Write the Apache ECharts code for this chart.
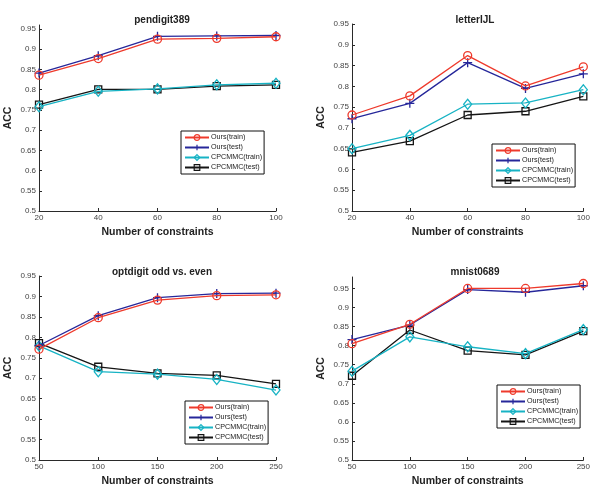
<!DOCTYPE html>
<html>
<head>
<meta charset="utf-8">
<script src="https://cdn.jsdelivr.net/npm/echarts@6/dist/echarts.min.js"></script>
<style>
  html, body { margin: 0; padding: 0; background: #fff; }
  #chart { width: 593px; height: 488px; }
</style>
</head>
<body>
<div id="chart"></div>
<script>
  // tick labels
  var xTicksA = [20, 40, 60, 80, 100];
  var xTicksB = [50, 100, 150, 200, 250];
  var yTicks = [0.5, 0.55, 0.6, 0.65, 0.7, 0.75, 0.8, 0.85, 0.9, 0.95];

  var seriesNames = ['Ours(train)', 'Ours(test)', 'CPCMMC(train)', 'CPCMMC(test)'];
  var titles = ['pendigit389', 'letterIJL', 'optdigit odd vs. even', 'mnist0689'];

  // pendigit389
  var pendTrain = [0.836, 0.877, 0.925, 0.927, 0.931];
  var pendTest = [0.841, 0.884, 0.932, 0.933, 0.934];
  var pendCpTrain = [0.758, 0.796, 0.802, 0.812, 0.816];
  var pendCpTest = [0.763, 0.801, 0.801, 0.809, 0.812];

  // letterIJL
  var letTrain = [0.731, 0.777, 0.874, 0.801, 0.847];
  var letTest = [0.722, 0.759, 0.857, 0.795, 0.830];
  var letCpTrain = [0.650, 0.682, 0.757, 0.760, 0.792];
  var letCpTest = [0.641, 0.668, 0.731, 0.740, 0.776];

  // optdigit odd vs. even
  var optTrain = [0.771, 0.848, 0.891, 0.902, 0.904];
  var optTest = [0.780, 0.853, 0.897, 0.907, 0.908];
  var optCpTrain = [0.779, 0.716, 0.710, 0.697, 0.671];
  var optCpTest = [0.786, 0.728, 0.712, 0.707, 0.686];

  // mnist0689
  var mnTrain = [0.805, 0.856, 0.950, 0.950, 0.963];
  var mnTest = [0.816, 0.854, 0.947, 0.940, 0.957];
  var mnCpTrain = [0.733, 0.823, 0.797, 0.779, 0.842];
  var mnCpTest = [0.721, 0.841, 0.787, 0.776, 0.838];

  var panelData = [
    [pendTrain, pendTest, pendCpTrain, pendCpTest],
    [letTrain, letTest, letCpTrain, letCpTest],
    [optTrain, optTest, optCpTrain, optCpTest],
    [mnTrain, mnTest, mnCpTrain, mnCpTest]
  ];
  var panelX = [xTicksA, xTicksA, xTicksB, xTicksB];
  var panelYMax = [0.96, 0.95, 0.95, 0.98];

  var font = "'Liberation Sans', Arial, sans-serif";
  var colors = ['#ee3a2c', '#26279a', '#17b3c4', '#151515'];
  var plus = 'path://M5,0 L5,10 M0,5 L10,5';
  var symbols = ['circle', plus, 'diamond', 'rect'];
  var symSizes = [8, 9, [8, 10], 7];

  var grids = [
    {left: 39, top: 25, width: 237, height: 186},
    {left: 352, top: 24, width: 237, height: 187},
    {left: 39, top: 276, width: 237, height: 188},
    {left: 352, top: 277, width: 237, height: 187}
  ];
  var titlePos = [
    {left: 157, top: 10}, {left: 470, top: 10},
    {left: 157, top: 262}, {left: 470, top: 262}
  ];
  var legendPos = [
    {left: 181, top: 131}, {left: 492, top: 144},
    {left: 185, top: 401}, {left: 497, top: 385}
  ];

  var myCharts = echarts.init(document.getElementById('chart'));
  var option = {
    animation: false,
    backgroundColor: '#fff',
    title: [],
    legend: [],
    grid: [],
    xAxis: [],
    yAxis: [],
    series: []
  };

  grids.forEach(function (g, i) {
    option.grid.push(g);
    option.title.push({
      text: titles[i],
      left: titlePos[i].left,
      top: titlePos[i].top,
      textAlign: 'center',
      textStyle: {fontFamily: font, fontSize: 10, fontWeight: 'bold', color: '#222'}
    });
    var xt = panelX[i];
    option.xAxis.push({
      type: 'value',
      gridIndex: i,
      min: xt[0],
      max: xt[xt.length - 1],
      interval: xt[1] - xt[0],
      name: 'Number of constraints',
      nameLocation: 'middle',
      nameGap: 16,
      nameTextStyle: {fontFamily: font, fontSize: 10.5, fontWeight: 'bold', color: '#222'},
      splitLine: {show: false},
      axisLine: {lineStyle: {color: '#2a2a2a', width: 1}},
      axisTick: {inside: true, length: 3, lineStyle: {color: '#2a2a2a'}},
      axisLabel: {fontFamily: font, fontSize: 8, color: '#444', margin: 3}
    });
    option.yAxis.push({
      type: 'value',
      gridIndex: i,
      min: 0.5,
      max: panelYMax[i],
      name: 'ACC',
      nameLocation: 'middle',
      nameGap: 25,
      nameTextStyle: {fontFamily: font, fontSize: 10.5, fontWeight: 'bold', color: '#222'},
      splitLine: {show: false},
      axisLine: {show: true, lineStyle: {color: '#2a2a2a', width: 1}},
      axisTick: {inside: true, length: 3, customValues: yTicks, lineStyle: {color: '#2a2a2a'}},
      axisLabel: {fontFamily: font, fontSize: 8, color: '#444', margin: 3, customValues: yTicks}
    });
    option.legend.push({
      left: legendPos[i].left,
      top: legendPos[i].top,
      orient: 'vertical',
      data: seriesNames,
      itemWidth: 24,
      itemHeight: 7,
      itemGap: 3,
      padding: [3, 2, 3, 3],
      borderColor: '#111',
      borderWidth: 1,
      backgroundColor: '#fff',
      selectedMode: false,
      itemStyle: {color: 'rgba(255,255,255,0)', borderWidth: 1.2},
      textStyle: {fontFamily: font, fontSize: 7.2, color: '#222', padding: [0, 0, 0, -3]}
    });
    panelData[i].forEach(function (vals, k) {
      option.series.push({
        name: seriesNames[k],
        type: 'line',
        xAxisIndex: i,
        yAxisIndex: i,
        data: vals.map(function (v, j) { return [xt[j], v]; }),
        symbol: symbols[k],
        symbolSize: symSizes[k],
        showAllSymbol: true,
        lineStyle: {color: colors[k], width: 1.3},
        itemStyle: {color: 'rgba(255,255,255,0)', borderColor: colors[k], borderWidth: 1.3},
        z: 10 - k
      });
    });
  });

  myCharts.setOption(option);
</script>
</body>
</html>
